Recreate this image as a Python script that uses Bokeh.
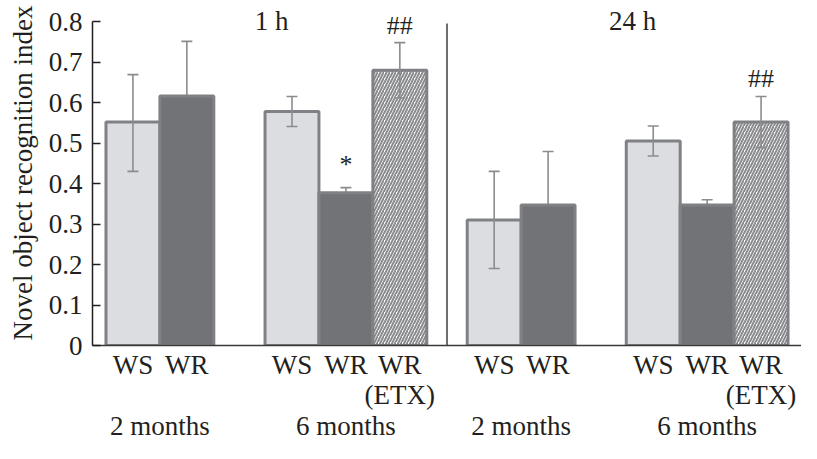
from bokeh.plotting import figure
from bokeh.models import FactorRange, ColumnDataSource, Whisker, TeeHead, FixedTicker
from bokeh.transform import dodge
from bokeh.core.properties import value
from bokeh.embed import file_html
from bokeh.resources import INLINE

# ---------------- data ----------------
delays = ["1 h", "24 h"]
ages = ["2 months", "6 months"]

bar_delay = ["1 h", "1 h", "1 h", "1 h", "1 h", "24 h", "24 h", "24 h", "24 h", "24 h"]
bar_age = ["2 months", "2 months", "6 months", "6 months", "6 months",
           "2 months", "2 months", "6 months", "6 months", "6 months"]
bar_group = ["WS", "WR", "WS", "WR", "WR\n(ETX)", "WS", "WR", "WS", "WR", "WR\n(ETX)"]
bar_kind = ["WS", "WR", "WS", "WR", "ETX", "WS", "WR", "WS", "WR", "ETX"]
means = [0.552, 0.616, 0.578, 0.377, 0.680, 0.310, 0.347, 0.505, 0.347, 0.552]
upper = [0.669, 0.751, 0.615, 0.390, 0.748, 0.430, 0.479, 0.542, 0.360, 0.615]
lower = [0.430, 0.481, 0.541, 0.364, 0.612, 0.190, 0.215, 0.468, 0.334, 0.489]

sig_x = [("1 h", "6 months", "WR"), ("1 h", "6 months", "WR\n(ETX)"), ("24 h", "6 months", "WR\n(ETX)")]
sig_text = ["*", "##", "##"]
sig_y = [0.447, 0.790, 0.660]

panel_y = [0.802, 0.802]

y_ticks = [0, 0.1, 0.2, 0.3, 0.4, 0.5, 0.6, 0.7, 0.8]
y_tick_labels = ["0", "0.1", "0.2", "0.3", "0.4", "0.5", "0.6", "0.7", "0.8"]

# ---------------- styles ----------------
FONT = "Liberation Serif"
FS = "27px"
TXT = "#231f20"
OUTLINE = "#808185"
ERR = "#8c8c8f"
fills = {"WS": "#dcdde0", "WR": "#727377", "ETX": "#ffffff"}
GROUP_PAD = 0.75

factors = [(d, a, g) for d, a, g in zip(bar_delay, bar_age, bar_group)]
x_range = FactorRange(factors=factors, factor_padding=0.0, subgroup_padding=0.95,
                      group_padding=GROUP_PAD, range_padding=0.25,
                      range_padding_units="absolute")

p = figure(x_range=x_range, y_range=(0, 0.852), width=801, height=443,
           output_backend="svg", toolbar_location=None,
           min_border_left=92, min_border_right=0, min_border_top=0, min_border_bottom=0)
p.outline_line_color = None
p.xgrid.grid_line_color = None
p.ygrid.grid_line_color = None
p.background_fill_color = "white"

def subset(kind):
    idx = [i for i, k in enumerate(bar_kind) if k == kind]
    return ColumnDataSource(dict(
        x=[factors[i] for i in idx],
        top=[means[i] for i in idx],
        upper=[upper[i] for i in idx],
        lower=[lower[i] for i in idx],
    ))

src_ws = subset("WS")
src_wr = subset("WR")
src_etx = subset("ETX")

def whisker(src, level):
    return Whisker(source=src, base="x", upper="upper", lower="lower",
                   line_color=ERR, line_width=1.6, level=level,
                   upper_head=TeeHead(size=11, line_color=ERR, line_width=1.6),
                   lower_head=TeeHead(size=11, line_color=ERR, line_width=1.6))

# WR whiskers under the bars (lower half hidden by the dark fill)
p.add_layout(whisker(src_wr, "underlay"))

p.vbar(x="x", top="top", width=1.0, source=src_ws, fill_color=fills["WS"],
       line_color=OUTLINE, line_width=3)
p.vbar(x="x", top="top", width=1.0, source=src_wr, fill_color=fills["WR"],
       line_color=OUTLINE, line_width=3)
p.vbar(x="x", top="top", width=1.0, source=src_etx, fill_color=fills["ETX"],
       hatch_pattern="/", hatch_color="#8a8b8e", hatch_scale=6, hatch_weight=2,
       line_color=OUTLINE, line_width=3)

p.add_layout(whisker(src_ws, "annotation"))
p.add_layout(whisker(src_etx, "annotation"))

# divider between 1 h and 24 h
div_src = ColumnDataSource(dict(x=[("24 h", "2 months", "WS")], y0=[0], y1=[0.795]))
p.segment(x0=dodge("x", -(0.5 + GROUP_PAD / 2), range=x_range), y0="y0",
          x1=dodge("x", -(0.5 + GROUP_PAD / 2), range=x_range), y1="y1",
          source=div_src, line_color="#231f20", line_width=1.3)

# significance marks
p.text(x=sig_x, y=sig_y, text=sig_text, text_font=value(FONT), text_font_size="26px",
       text_align="center", text_baseline="middle", text_color=TXT)

# panel labels
p.text(x=delays, y=panel_y, text=delays, text_font=value(FONT), text_font_size=FS,
       text_align="center", text_baseline="middle", text_color=TXT)

# axes
ya = p.yaxis[0]
ya.ticker = FixedTicker(ticks=y_ticks)
ya.major_label_overrides = {t: l for t, l in zip(y_ticks, y_tick_labels)}
ya.bounds = (0, 0.8)
ya.axis_line_color = "#231f20"
ya.axis_line_width = 1.5
ya.major_tick_in = 8
ya.major_tick_out = 0
ya.major_tick_line_color = "#231f20"
ya.major_tick_line_width = 1.5
ya.minor_tick_line_color = None
ya.major_label_text_font = FONT
ya.major_label_text_font_size = FS
ya.major_label_text_color = TXT
ya.major_label_standoff = 10
ya.axis_label = "Novel object recognition index"
ya.axis_label_text_font = FONT
ya.axis_label_text_font_size = FS
ya.axis_label_text_font_style = "normal"
ya.axis_label_text_color = TXT
ya.axis_label_standoff = 8

xa = p.xaxis[0]
xa.axis_line_color = "#3a3a3c"
xa.axis_line_width = 1.5
xa.major_tick_line_color = None
xa.minor_tick_line_color = None
xa.major_label_text_font = FONT
xa.major_label_text_font_size = FS
xa.major_label_text_color = TXT
xa.major_label_text_line_height = 1.0
xa.major_label_standoff = -2
xa.subgroup_text_font = FONT
xa.subgroup_text_font_size = FS
xa.subgroup_text_font_style = "normal"
xa.subgroup_text_color = TXT
xa.subgroup_text_line_height = 1.0
xa.group_text_font_size = "1px"
xa.group_text_line_height = 1.0
xa.group_text_alpha = 0
xa.separator_line_alpha = 0

open("out.html", "w").write(file_html(p, INLINE))
